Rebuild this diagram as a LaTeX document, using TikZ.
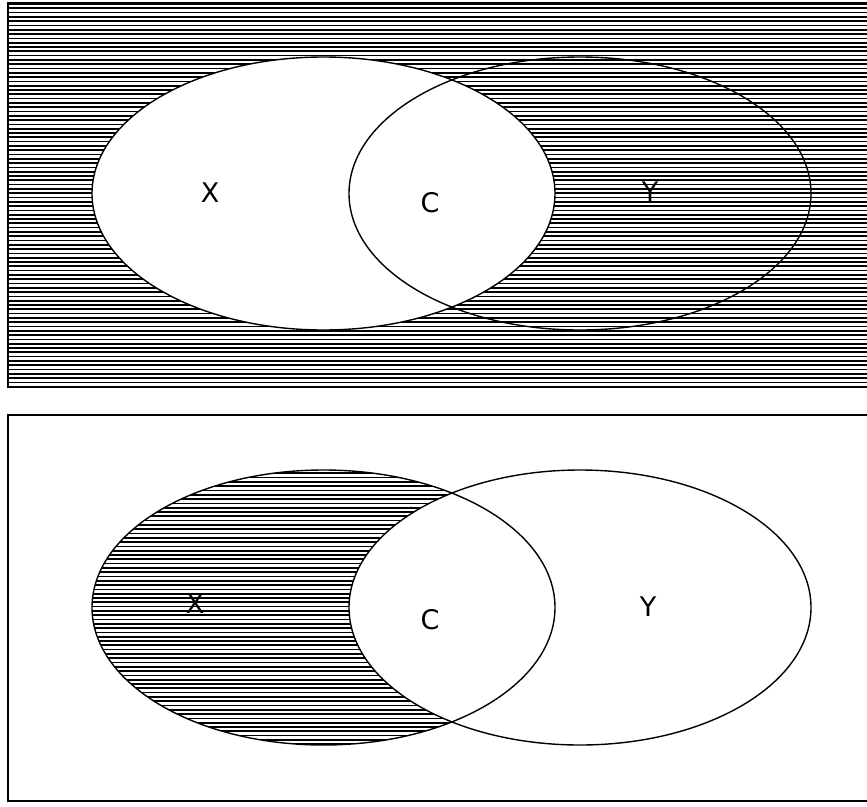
\documentclass[tikz,border=0pt]{standalone}
\usepackage{fontspec}
\setmainfont{DejaVu Sans}
\begin{document}
\begin{tikzpicture}[x=1pt,y=-1pt,
  frame/.style={line width=2pt},
  outline/.style={line width=1.4pt},
  hatch/.style={line width=1.7pt},
  lbl/.style={font=\fontsize{27}{27}\selectfont, inner sep=0pt}]
\useasboundingbox (0,0) rectangle (867,806);
% ---------- top panel ----------
\begin{scope}
  \clip (8,3) rectangle (870,387);
  \foreach \i in {0,...,90} {
    \draw[hatch] (8,4+4.3*\i) -- (870,4+4.3*\i);
  }
\end{scope}
\fill[white] (323.5,193.5) ellipse [x radius=231.5, y radius=136.5];
\draw[outline] (323.5,193.5) ellipse [x radius=231.5, y radius=136.5];
\draw[outline] (580,193.5) ellipse [x radius=231, y radius=136.5];
\draw[frame] (870,3) -- (8,3) -- (8,387) -- (870,387);
\node[lbl] (tx) at (210,193) {X};
\node[lbl] (tc) at (430,203) {C};
\node[lbl] (ty) at (650,192) {Y};
% ---------- bottom panel ----------
\begin{scope}
  \clip (323.5,607.5) ellipse [x radius=231.5, y radius=137.5];
  \foreach \i in {0,...,66} {
    \draw[hatch] (80,469+4.3*\i) -- (570,469+4.3*\i);
  }
\end{scope}
\fill[white] (580,607.5) ellipse [x radius=231, y radius=137.5];
\draw[outline] (323.5,607.5) ellipse [x radius=231.5, y radius=137.5];
\draw[outline] (580,607.5) ellipse [x radius=231, y radius=137.5];
\draw[frame] (870,415) -- (8,415) -- (8,801) -- (870,801);
\node[lbl] (bx) at (195,604) {X};
\node[lbl] (bc) at (430,620) {C};
\node[lbl] (by) at (648,607) {Y};
\end{tikzpicture}
\end{document}
